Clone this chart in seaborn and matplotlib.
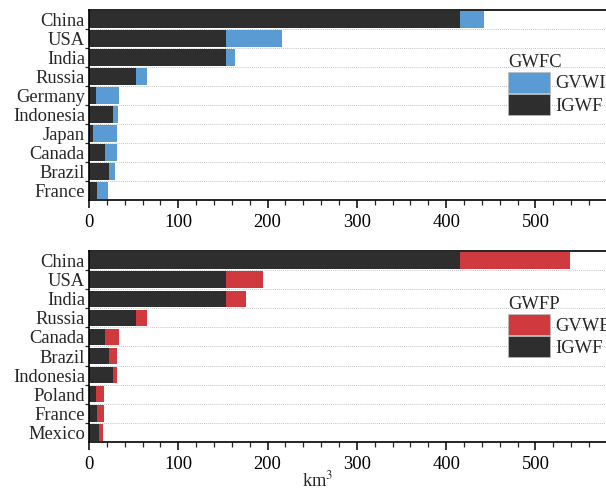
import pandas as pd
import matplotlib
matplotlib.use("Agg")
import matplotlib.pyplot as plt
from matplotlib.patches import Patch
from matplotlib.ticker import MultipleLocator, FixedLocator
import seaborn as sns

# GWFC panel (km3)
gwfc_countries = ["China", "USA", "India", "Russia", "Germany", "Indonesia",
                  "Japan", "Canada", "Brazil", "France"]
gwfc_igwf = [415, 153, 153, 53, 7.5, 26.5, 4.5, 17.5, 22.8, 9]
gwfc_total = [442, 216, 163.5, 65, 33.6, 32.8, 31.7, 31.4, 28.7, 21.6]

# GWFP panel (km3)
gwfp_countries = ["China", "USA", "India", "Russia", "Canada", "Brazil",
                  "Indonesia", "Poland", "France", "Mexico"]
gwfp_igwf = [415, 153, 153, 53, 17.5, 22.8, 26.5, 8.2, 9, 10.8]
gwfp_total = [539, 195, 176, 65.3, 33.6, 31.7, 31.7, 16.4, 16.4, 15.3]

DARK = "#2e2e2e"
BLUE = "#5b9bd3"
RED = "#d03a3e"

sns.set_theme(style="white")
plt.rcParams["font.family"] = ["Liberation Serif", "DejaVu Serif"]
plt.rcParams["mathtext.fontset"] = "stix"

fig = plt.figure(figsize=(6.06, 4.91), dpi=100)
W, H = 606, 491
x0 = 89
px_per_unit = 0.893
xmax = 590
ax_w = xmax * px_per_unit / W

def make_panel(ax, countries, igwf, total, color, title, label, leg_y):
    df = pd.DataFrame({"Country": countries, "IGWF": igwf, "Total": total})
    sns.barplot(data=df, y="Country", x="Total", color=color, width=0.86,
                saturation=1, linewidth=0, ax=ax, orient="h")
    sns.barplot(data=df, y="Country", x="IGWF", color=DARK, width=0.86,
                saturation=1, linewidth=0, ax=ax, orient="h")
    ax.set_xlim(0, xmax)
    ax.set_ylim(len(countries) - 0.5, -0.5)
    ax.set_xlabel("")
    ax.set_ylabel("")
    ax.xaxis.set_major_locator(MultipleLocator(100))
    ax.xaxis.set_minor_locator(MultipleLocator(20))
    ax.yaxis.set_minor_locator(FixedLocator([i + 0.5 for i in range(len(countries) - 1)]))
    ax.tick_params(axis="x", which="major", direction="out", length=6, width=1.1,
                   labelsize=13.3, pad=4, colors="black", bottom=True)
    ax.tick_params(axis="x", which="minor", direction="out", length=3.5, width=0.9,
                   bottom=True)
    ax.tick_params(axis="y", which="major", length=0, labelsize=13.3, pad=3)
    ax.tick_params(axis="y", which="minor", direction="out", length=3, width=0.9,
                   left=True)
    ax.grid(axis="y", which="minor", linestyle=(0, (1, 1.5)), linewidth=0.6,
            color="#b0b0b0")
    ax.grid(axis="x", visible=False)
    for s in ["top", "bottom", "left", "right"]:
        ax.spines[s].set_color("black")
        ax.spines[s].set_linewidth(1.2)
    handles = [Patch(facecolor=color, edgecolor="#bbbbbb", linewidth=0.5, label=label),
               Patch(facecolor=DARK, edgecolor="#bbbbbb", linewidth=0.5, label="IGWF")]
    leg = ax.legend(handles=handles, title=title, loc="upper left",
                    bbox_to_anchor=((508 - x0) / (xmax * px_per_unit), leg_y),
                    frameon=False, fontsize=13.3, title_fontsize=13.3,
                    handlelength=2.3, handleheight=1.4, handletextpad=0.25,
                    labelspacing=0.05, borderpad=0, borderaxespad=0)
    leg._legend_box.align = "left"

ax1 = fig.add_axes([x0 / W, 1 - 200 / H, ax_w, 190 / H])
make_panel(ax1, gwfc_countries, gwfc_igwf, gwfc_total, BLUE, "GWFC", "GVWI", 0.77)

ax2 = fig.add_axes([x0 / W, 1 - 442 / H, ax_w, 191 / H])
make_panel(ax2, gwfp_countries, gwfp_igwf, gwfp_total, RED, "GWFP", "GVWE", 0.765)
ax2.set_xlabel("km$^3$", fontsize=13.3, labelpad=0)
ax2.xaxis.set_label_coords((318 - x0) / (xmax * px_per_unit), -0.15)

fig.savefig("out.png", dpi=100)
